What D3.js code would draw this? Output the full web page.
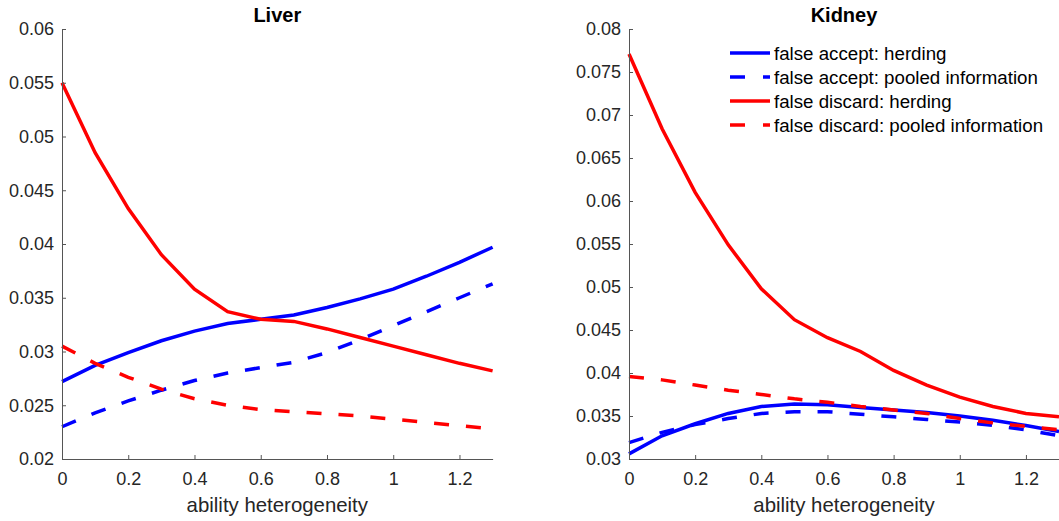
<!DOCTYPE html>
<html>
<head>
<meta charset="utf-8">
<script src="https://cdn.jsdelivr.net/npm/d3@7"></script>
<style>
  body { margin: 0; background: #fff; }
  svg { display: block; font-family: "Liberation Sans", Arial, sans-serif; }
</style>
</head>
<body>
<div class="d3-container"></div>
<script>
// x values (ability heterogeneity)
const xs = [0, 0.1, 0.2, 0.3, 0.4, 0.5, 0.6, 0.7, 0.8, 0.9, 1.0, 1.1, 1.2, 1.3];

// Liver
const liverAcceptHerd   = [0.0272, 0.0287, 0.0299, 0.0310, 0.0319, 0.0326, 0.0330, 0.0334, 0.0341, 0.0349, 0.0358, 0.0370, 0.0383, 0.0397];
const liverAcceptPooled = [0.0230, 0.0243, 0.0254, 0.0264, 0.0273, 0.0280, 0.0285, 0.0290, 0.0299, 0.0311, 0.0324, 0.0337, 0.0350, 0.0363];
const liverDiscardHerd  = [0.0550, 0.0485, 0.0433, 0.0390, 0.0358, 0.0337, 0.0330, 0.0328, 0.0321, 0.0313, 0.0305, 0.0297, 0.0289, 0.0282];
const liverDiscardPooled= [0.0305, 0.0289, 0.0276, 0.0265, 0.0256, 0.0250, 0.0246, 0.0244, 0.0242, 0.0240, 0.0237, 0.0234, 0.0231, 0.0228];

// Kidney
const kidneyAcceptHerd   = [0.0306, 0.0327, 0.0341, 0.0353, 0.0361, 0.0364, 0.0363, 0.0360, 0.0357, 0.0354, 0.0350, 0.0345, 0.0339, 0.0332];
const kidneyAcceptPooled = [0.0319, 0.0331, 0.0340, 0.0347, 0.0353, 0.0355, 0.0355, 0.0352, 0.0349, 0.0346, 0.0343, 0.0339, 0.0334, 0.0327];
const kidneyDiscardHerd  = [0.0771, 0.0684, 0.0610, 0.0549, 0.0498, 0.0462, 0.0441, 0.0425, 0.0403, 0.0386, 0.0372, 0.0361, 0.0353, 0.0349];
const kidneyDiscardPooled= [0.0396, 0.0392, 0.0386, 0.0380, 0.0375, 0.0370, 0.0366, 0.0361, 0.0357, 0.0353, 0.0347, 0.0342, 0.0338, 0.0334];

const seriesNames = ["false accept: herding", "false accept: pooled information",
                     "false discard: herding", "false discard: pooled information"];
const seriesColors = ["#0000ff", "#0000ff", "#ff0000", "#ff0000"];
const seriesDashed = [false, true, false, true];

const xTicks = [0, 0.2, 0.4, 0.6, 0.8, 1.0, 1.2];
const liverYTicks = [0.02, 0.025, 0.03, 0.035, 0.04, 0.045, 0.05, 0.055, 0.06];
const kidneyYTicks = [0.03, 0.035, 0.04, 0.045, 0.05, 0.055, 0.06, 0.065, 0.07, 0.075, 0.08];

const width = 1059;
const height = 521;
const textColor = "#262626";
const axisColor = "#555";
const tickFont = 18;
const labelFont = 20.4;
const legendFont = 18.7;
const dash = "15,17";

const svg = d3.select(".d3-container")
  .append("svg")
  .attr("width", width)
  .attr("height", height);

function panel(opts) {
  const x = d3.scaleLinear().domain([0, 1.3]).range([opts.left, opts.right]);
  const y = d3.scaleLinear().domain(opts.yDomain).range([459, 29]);
  const g = svg.append("g");

  // lines
  const line = d3.line().x((d, i) => x(xs[i])).y(d => y(d));
  opts.series.forEach((s, k) => {
    g.append("path")
      .datum(s)
      .attr("fill", "none")
      .attr("stroke", seriesColors[k])
      .attr("stroke-width", 3.5)
      .attr("stroke-dasharray", seriesDashed[k] ? dash : null)
      .attr("d", line);
  });

  // y axis (ticks inward)
  const yAxis = g.append("g")
    .attr("transform", `translate(${opts.left},0)`)
    .call(d3.axisRight(y).tickValues(opts.yTicks).tickSize(4).tickFormat(d3.format("")).tickSizeOuter(0));
  yAxis.select(".domain").attr("stroke", axisColor);
  yAxis.selectAll(".tick line").attr("stroke", axisColor);
  yAxis.selectAll(".tick text")
    .attr("x", -8)
    .attr("text-anchor", "end")
    .attr("fill", textColor)
    .style("font-size", tickFont + "px")
    .style("font-family", "'Liberation Sans', Arial, sans-serif");

  // x axis (ticks inward)
  const xAxis = g.append("g")
    .attr("transform", `translate(0,459)`)
    .call(d3.axisTop(x).tickValues(xTicks).tickSize(4).tickFormat(d3.format("")).tickSizeOuter(0));
  xAxis.select(".domain").attr("stroke", axisColor);
  xAxis.selectAll(".tick line").attr("stroke", axisColor);
  xAxis.selectAll(".tick text")
    .attr("y", 26)
    .attr("dy", 0)
    .attr("text-anchor", "middle")
    .attr("fill", textColor)
    .style("font-size", tickFont + "px")
    .style("font-family", "'Liberation Sans', Arial, sans-serif");

  // title
  g.append("text")
    .attr("x", (opts.left + opts.right) / 2)
    .attr("y", 21.5)
    .attr("text-anchor", "middle")
    .attr("font-weight", "bold")
    .attr("fill", "#000")
    .style("font-size", "20px")
    .text(opts.title);

  // x label
  g.append("text")
    .attr("x", (opts.left + opts.right) / 2)
    .attr("y", 512)
    .attr("text-anchor", "middle")
    .attr("fill", textColor)
    .style("font-size", labelFont + "px")
    .text("ability heterogeneity");

  return g;
}

panel({
  left: 62, right: 492.6, yDomain: [0.02, 0.06], yTicks: liverYTicks, title: "Liver",
  series: [liverAcceptHerd, liverAcceptPooled, liverDiscardHerd, liverDiscardPooled]
});

panel({
  left: 629, right: 1059, yDomain: [0.03, 0.08], yTicks: kidneyYTicks, title: "Kidney",
  series: [kidneyAcceptHerd, kidneyAcceptPooled, kidneyDiscardHerd, kidneyDiscardPooled]
});

// legend in Kidney panel
const legend = svg.append("g");
seriesNames.forEach((name, k) => {
  const yy = 53 + k * 24;
  legend.append("line")
    .attr("x1", 730).attr("x2", 770)
    .attr("y1", yy).attr("y2", yy)
    .attr("stroke", seriesColors[k])
    .attr("stroke-width", 3.5)
    .attr("stroke-dasharray", seriesDashed[k] ? "15,18" : null);
  legend.append("text")
    .attr("x", 774)
    .attr("y", yy + 6.5)
    .attr("fill", "#000")
    .style("font-size", legendFont + "px")
    .text(name);
});
</script>
</body>
</html>
